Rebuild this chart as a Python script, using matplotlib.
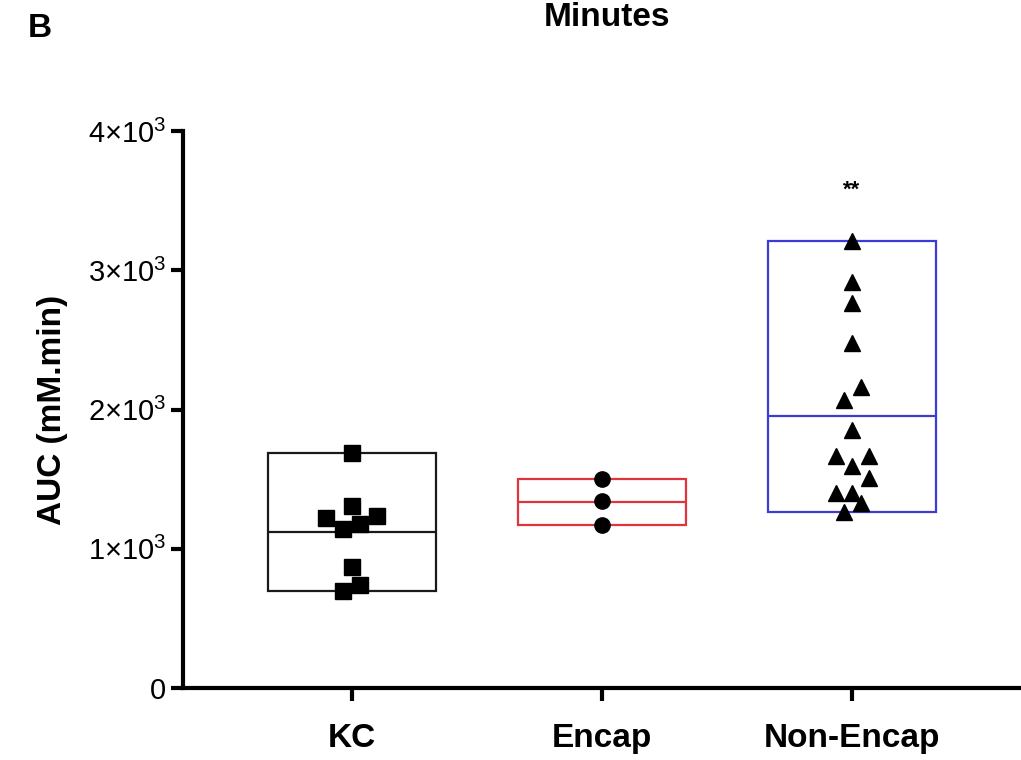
import matplotlib
matplotlib.use("Agg")
import matplotlib.pyplot as plt
import numpy as np

plt.rcParams['font.family'] = ['Liberation Sans', 'DejaVu Sans']
plt.rcParams['mathtext.fontset'] = 'custom'
plt.rcParams['mathtext.rm'] = 'Liberation Sans'
plt.rcParams['mathtext.it'] = 'Liberation Sans:italic'
plt.rcParams['mathtext.bf'] = 'Liberation Sans:bold'

# AUC values (mM.min)
groups = ["KC", "Encap", "Non-Encap"]
kc = [1690, 1307, 1220, 1235, 1177, 1141, 869, 739, 696]
encap = [1500, 1340, 1170]
non_encap = [3210, 2915, 2764, 2477, 2161, 2067, 1852, 1665, 1665,
             1594, 1508, 1400, 1400, 1328, 1263]
# horizontal scatter of the dots around each category
kc_jitter = [0, 0, -0.104, 0.10, 0.032, -0.036, 0, 0.032, -0.036]
encap_jitter = [0, 0, 0]
non_encap_jitter = [0, 0, 0, 0, 0.036, -0.032, 0, -0.064, 0.068,
                    0, 0.068, -0.064, 0, 0.036, -0.032]
y_ticks = [0, 1000, 2000, 3000, 4000]
y_tick_labels = ["0", r"$1{\times}10^3$", r"$2{\times}10^3$", r"$3{\times}10^3$", r"$4{\times}10^3$"]
signif = "**"

values = [kc, encap, non_encap]
jitters = [kc_jitter, encap_jitter, non_encap_jitter]
box_colors = ["#1a1a1a", "#e0343c", "#3c3cd4"]
markers = ["s", "o", "^"]
msizes = [11, 11, 11]

fig = plt.figure(figsize=(10.21, 7.6), dpi=100)
ax = fig.add_axes([0.1792, 0.0947, 0.8198, 0.7329])

for i, vals in enumerate(values):
    v = np.array(vals)
    lo, hi = v.min(), v.max()
    ax.bar(i, hi - lo, bottom=lo, width=0.67, fill=False,
           edgecolor=box_colors[i], linewidth=1.6, zorder=2)
    ax.hlines(v.mean(), i - 0.335, i + 0.335, color=box_colors[i], linewidth=1.6, zorder=2)
    ax.plot(i + np.array(jitters[i]), v, linestyle="none", marker=markers[i],
            markersize=msizes[i], color="black", zorder=3)

ax.text(2, 3575, signif, ha="center", va="center", fontsize=16, fontweight="bold")

ax.set_xlim(-0.676, 2.672)
ax.set_ylim(0, 4000)
ax.set_xticks(range(len(groups)))
ax.set_xticklabels(groups, fontsize=24, fontweight="bold")
ax.set_yticks(y_ticks)
ax.set_yticklabels(y_tick_labels, fontsize=21)
ax.set_ylabel("AUC (mM.min)", fontsize=24, fontweight="bold", labelpad=14)

for s in ["top", "right"]:
    ax.spines[s].set_visible(False)
for s in ["left", "bottom"]:
    ax.spines[s].set_linewidth(3)
ax.tick_params(axis="both", width=3, length=9, direction="out")
ax.tick_params(axis="x", pad=16)
ax.tick_params(axis="y", pad=3)

fig.text(0.027, 0.962, "B", fontsize=24, fontweight="bold", va="center", ha="left")
fig.text(0.595, 0.998, "Minutes", fontsize=24, fontweight="bold", va="top", ha="center")

fig.savefig("out.png", dpi=100)
